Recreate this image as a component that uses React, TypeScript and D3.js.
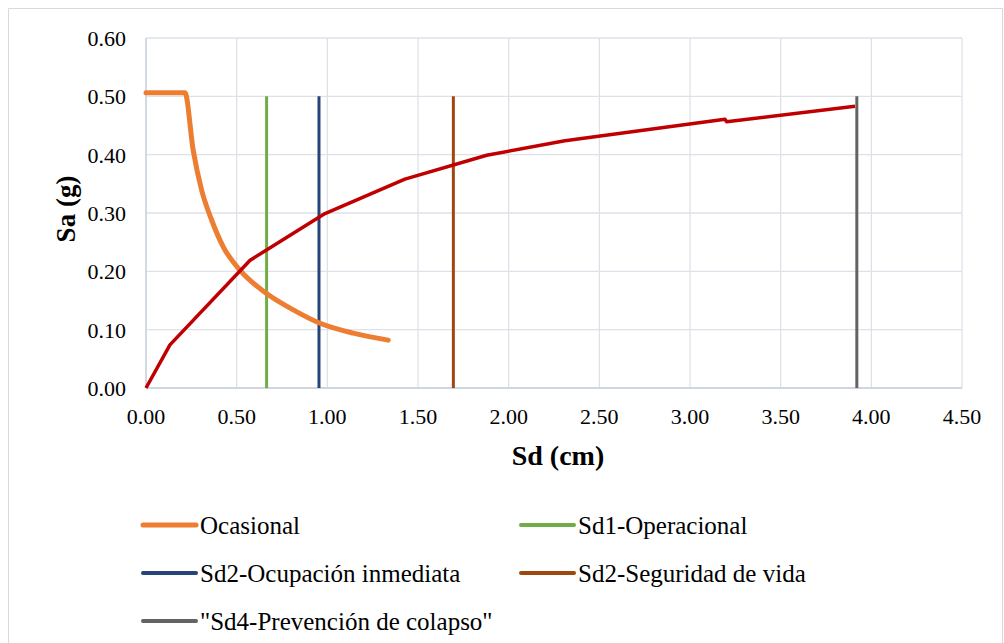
import React, { useEffect, useRef } from "react";
import * as d3 from "d3";

const ocasionalSd = [0, 0.215, 0.26, 0.307, 0.362, 0.426, 0.518, 0.665, 0.812, 0.96, 1.143, 1.336];
const ocasionalSa = [0.506, 0.506, 0.408, 0.339, 0.288, 0.242, 0.202, 0.162, 0.134, 0.111, 0.094, 0.082];

const capacitySd = [0, 0.132, 0.574, 0.987, 1.428, 1.879, 2.31, 3.193, 3.202, 3.91];
const capacitySa = [0, 0.074, 0.219, 0.299, 0.358, 0.399, 0.424, 0.4606, 0.4565, 0.483];

const limitNames = ["Sd1-Operacional", "Sd2-Ocupación inmediata", "Sd2-Seguridad de vida", "\"Sd4-Prevención de colapso\""];
const limitSd = [0.665, 0.954, 1.695, 3.92];
const limitTop = [0.5, 0.5, 0.5, 0.5];
const limitColors = ["#70AD47", "#264478", "#9E480E", "#636363"];

const xTicks = [0, 0.5, 1, 1.5, 2, 2.5, 3, 3.5, 4, 4.5];
const yTicks = [0, 0.1, 0.2, 0.3, 0.4, 0.5, 0.6];

const legendItems = [
  { name: "Ocasional", color: "#ED7D31", col: 0, row: 0, w: 5 },
  { name: limitNames[0], color: limitColors[0], col: 1, row: 0, w: 4 },
  { name: limitNames[1], color: limitColors[1], col: 0, row: 1, w: 4 },
  { name: limitNames[2], color: limitColors[2], col: 1, row: 1, w: 4 },
  { name: limitNames[3], color: limitColors[3], col: 0, row: 2, w: 4 },
];

export default function App() {
  const ref = useRef<SVGSVGElement>(null);
  const W = 1004, H = 643;
  const left = 146, right = 962, top = 38, bottom = 388;
  const x = d3.scaleLinear().domain([0, 4.5]).range([left, right]);
  const y = d3.scaleLinear().domain([0, 0.6]).range([bottom, top]);

  useEffect(() => {
    if (!ref.current) return;
    d3.select(ref.current).selectAll("text").each(function () {
      (this as SVGTextElement).style.setProperty("font-family", "Liberation Serif", "important");
    });
  }, []);

  const orangeLine = d3.line<number>()
    .x((_, i) => x(ocasionalSd[i]))
    .y((d) => y(d))
    .curve(d3.curveMonotoneX)(ocasionalSa) as string;
  const redLine = d3.line<number>()
    .x((_, i) => x(capacitySd[i]))
    .y((d) => y(d))(capacitySa) as string;

  const legendX = [143, 521];
  const legendY = [525, 573, 621];
  const F = "Times New Roman";

  return (
    <svg ref={ref} width={W} height={H} style={{ position: "absolute", left: 0, top: 0 }}>
      <rect x={0} y={0} width={W} height={H} fill="#fff" />
      <path d={`M8.5,${H} V8.5 H1002.5 V${H}`} fill="none" stroke="#d9d9d9" strokeWidth={1} />
      {xTicks.map((t) => (
        <line key={"gx" + t} x1={x(t)} x2={x(t)} y1={top} y2={bottom} stroke="#dde2ea" strokeWidth={1.3} />
      ))}
      {yTicks.map((t) => (
        <line key={"gy" + t} x1={left} x2={right} y1={y(t)} y2={y(t)} stroke="#dde2ea" strokeWidth={1.3} />
      ))}
      <line x1={left} x2={left} y1={top} y2={bottom} stroke="#c8cfdc" strokeWidth={1.3} />
      <line x1={left} x2={right} y1={bottom} y2={bottom} stroke="#c8cfdc" strokeWidth={1.3} />
      {yTicks.map((t) => (
        <text key={"ty" + t} fontFamily={F} x={126} y={y(t) + 8} textAnchor="end" fontSize={22} fill="#000">
          {t.toFixed(2)}
        </text>
      ))}
      {xTicks.map((t) => (
        <text key={"tx" + t} fontFamily={F} x={x(t)} y={424} textAnchor="middle" fontSize={22} fill="#000">
          {t.toFixed(2)}
        </text>
      ))}
      <text fontFamily={F} x={558} y={465} textAnchor="middle" fontSize={28} fontWeight="bold">Sd (cm)</text>
      <text fontFamily={F} transform="translate(75,209) rotate(-90)" textAnchor="middle" fontSize={27} fontWeight="bold">Sa (g)</text>

      {limitSd.map((s, i) => (
        <line key={"v" + i} x1={x(s)} x2={x(s)} y1={y(0)} y2={y(limitTop[i])} stroke={limitColors[i]} strokeWidth={3} />
      ))}
      <path d={orangeLine} fill="none" stroke="#ED7D31" strokeWidth={5} strokeLinecap="round" strokeLinejoin="round" />
      <path d={redLine} fill="none" stroke="#C00000" strokeWidth={3.5} strokeLinejoin="round" />

      {legendItems.map((it) => (
        <g key={it.name}>
          <line x1={legendX[it.col]} x2={legendX[it.col] + 53} y1={legendY[it.row]} y2={legendY[it.row]}
            stroke={it.color} strokeWidth={it.w} strokeLinecap="round" />
          <text fontFamily={F} x={legendX[it.col] + 57} y={legendY[it.row] + 9} fontSize={25} fill="#000">{it.name}</text>
        </g>
      ))}
    </svg>
  );
}
